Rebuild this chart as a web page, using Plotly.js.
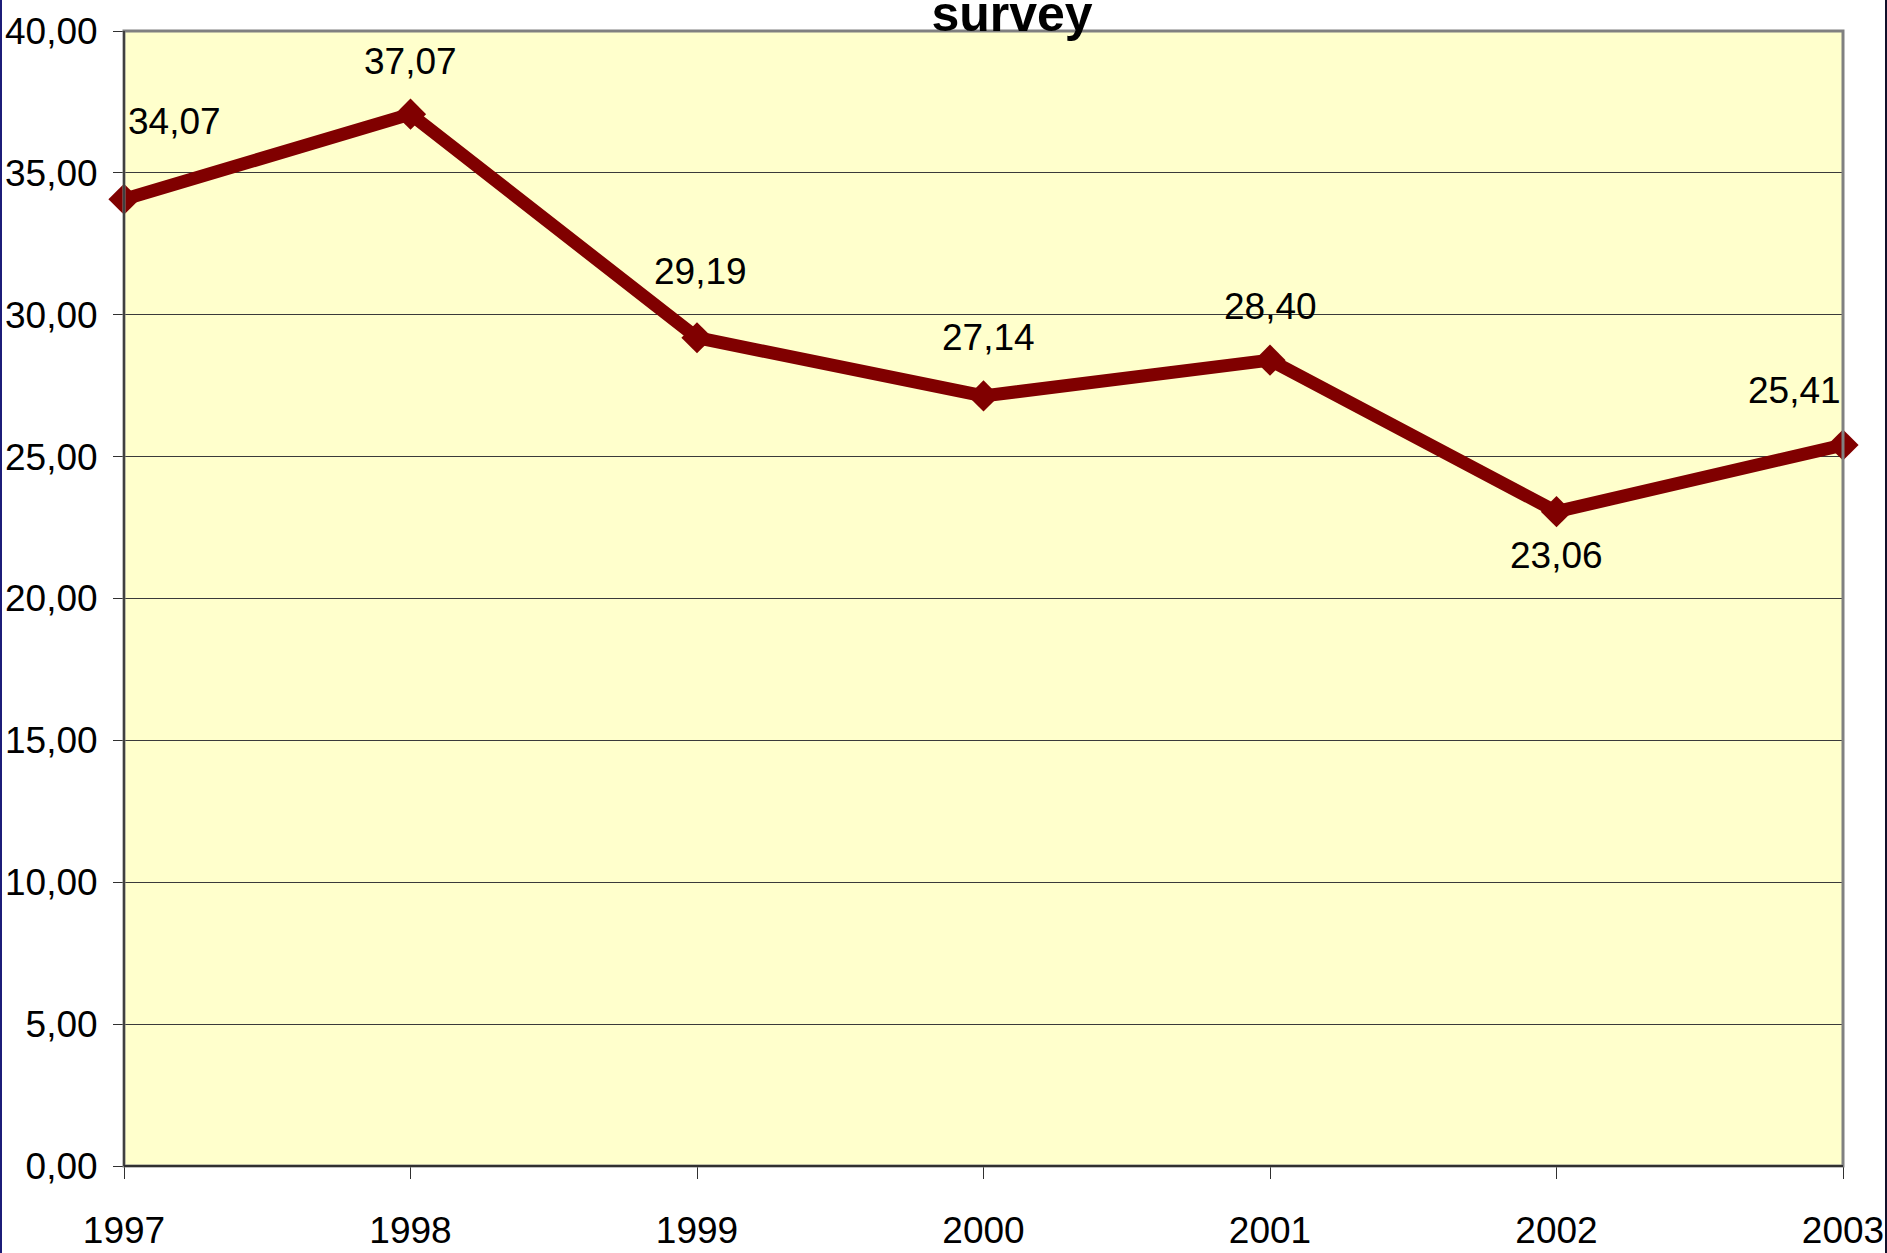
<!DOCTYPE html>
<html>
<head>
<meta charset="utf-8">
<script src="https://cdn.plot.ly/plotly-3.0.1.min.js"></script>
<style>
  html, body { margin: 0; padding: 0; background: #ffffff; }
  #chart { width: 1887px; height: 1253px; }
</style>
</head>
<body>
<div id="chart"></div>
<script>
// ---- data ----
const years = [1997, 1998, 1999, 2000, 2001, 2002, 2003];
const values = [34.07, 37.07, 29.19, 27.14, 28.40, 23.06, 25.41];
const titleText = "survey";

// ---- label style offsets (pixels) ----
const labelDx = [50, 0, 3, 5, 0, 0, -49];
const labelDy = [78, 53, 66, 58, 54, -44, 54];

const W = 1887, H = 1253;
const M = { l: 124, r: 44, t: 31, b: 87 };
const pw = W - M.l - M.r, ph = H - M.t - M.b;
const px2x = px => (px - M.l) / pw;
const py2y = py => 1 - (py - M.t) / ph;

const FONT = "'Liberation Sans Narrow', 'Arial Narrow', 'Liberation Sans', Arial, sans-serif";
const FS = 37;
const fmt = v => v.toFixed(2).replace('.', ',');

const trace = {
  x: years,
  y: values,
  type: 'scatter',
  mode: 'lines+markers',
  line: { color: '#800000', width: 13 },
  marker: { symbol: 'diamond', size: 24, color: '#800000' },
  cliponaxis: false,
  hoverinfo: 'x+y'
};

const annotations = years.map((yr, i) => ({
  x: yr, y: values[i], xref: 'x', yref: 'y',
  text: fmt(values[i]),
  showarrow: false,
  xshift: labelDx[i], yshift: labelDy[i],
  xanchor: 'center', yanchor: 'middle',
  font: { family: FONT, size: FS, color: '#000000' }
}));

const shapes = [
  { type: 'rect', xref: 'paper', yref: 'paper', x0: 0, x1: 1, y0: 0, y1: 1,
    line: { color: '#808080', width: 3 }, layer: 'above' },
  { type: 'line', xref: 'paper', yref: 'paper', x0: 0, x1: 0, y0: 0, y1: 1,
    line: { color: '#404040', width: 2 }, layer: 'above' },
  { type: 'line', xref: 'paper', yref: 'paper', x0: 0, x1: 1, y0: 0, y1: 0,
    line: { color: '#303030', width: 2 }, layer: 'above' },
  { type: 'line', xref: 'paper', yref: 'paper', x0: px2x(1), x1: px2x(1), y0: py2y(0), y1: py2y(H),
    line: { color: '#1c1c78', width: 2 } },
  { type: 'line', xref: 'paper', yref: 'paper', x0: px2x(1886), x1: px2x(1886), y0: py2y(0), y1: py2y(H),
    line: { color: '#10102a', width: 2 } }
];

const layout = {
  width: W, height: H,
  margin: M,
  paper_bgcolor: '#ffffff',
  plot_bgcolor: '#FFFFCC',
  separators: ',.',
  showlegend: false,
  title: {
    text: '<b>' + titleText + '</b>',
    xref: 'container', yref: 'container',
    x: 1012 / W, xanchor: 'center',
    y: 1 - 13 / H, yanchor: 'middle',
    font: { family: FONT, size: 50, color: '#000000' }
  },
  xaxis: {
    range: [1997, 2003],
    tickmode: 'array', tickvals: years, ticktext: years.map(String),
    ticks: 'outside', ticklen: 12, tickcolor: '#303030', tickwidth: 1,
    showgrid: false, zeroline: false, showline: false,
    ticklabelstandoff: 20,
    ticklabeloverflow: 'allow',
    tickfont: { family: FONT, size: FS, color: '#000000' }
  },
  yaxis: {
    range: [0, 40], dtick: 5, tick0: 0,
    tickformat: '.2f',
    ticks: 'outside', ticklen: 10, tickcolor: '#303030', tickwidth: 1,
    showgrid: true, gridcolor: '#3a3a3a', gridwidth: 1,
    zeroline: false, showline: false,
    ticklabelstandoff: 8,
    ticklabeloverflow: 'allow',
    tickfont: { family: FONT, size: FS, color: '#000000' }
  },
  annotations: annotations,
  shapes: shapes
};

Plotly.newPlot('chart', [trace], layout, { displayModeBar: false, staticPlot: true });
</script>
</body>
</html>
